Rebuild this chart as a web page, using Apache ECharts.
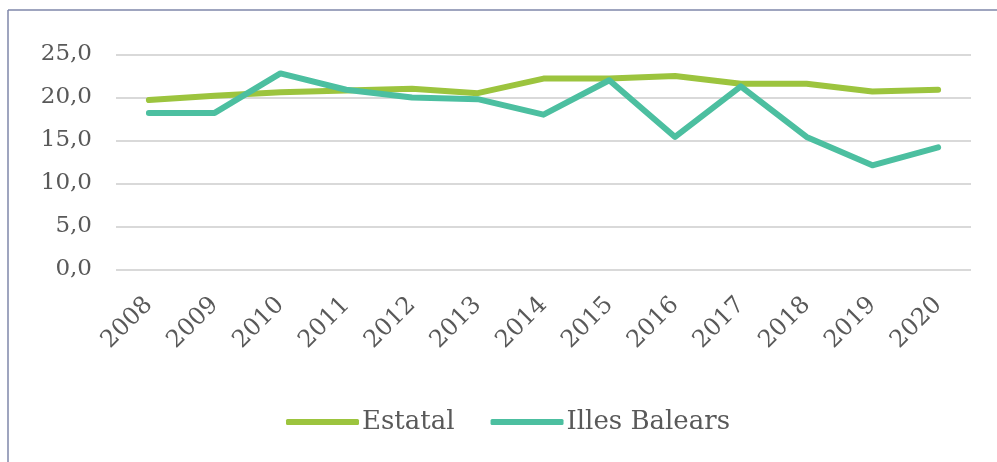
<!DOCTYPE html>
<html>
<head>
<meta charset="utf-8">
<script src="https://cdn.jsdelivr.net/npm/echarts@6/dist/echarts.min.js"></script>
<style>
html,body{margin:0;padding:0;background:#fff;}
#chart{width:997px;height:462px;}
</style>
</head>
<body>
<div id="chart"></div>
<script>
const years = ['2008','2009','2010','2011','2012','2013','2014','2015','2016','2017','2018','2019','2020'];
const estatal = [19.7, 20.2, 20.6, 20.8, 21.0, 20.5, 22.2, 22.2, 22.5, 21.6, 21.6, 20.7, 20.9];
const illesBalears = [18.2, 18.2, 22.8, 20.9, 20.0, 19.8, 18.0, 22.0, 15.4, 21.3, 15.4, 12.1, 14.2];
const seriesNames = ['Estatal', 'Illes Balears'];

const chart = echarts.init(document.getElementById('chart'), null, {renderer: 'canvas'});
const font = 'DejaVu Serif';
chart.setOption({
  animation: false,
  backgroundColor: '#fff',
  graphic: [
    {type: 'line', shape: {x1: 8, y1: 10, x2: 997, y2: 10}, style: {stroke: '#7f87aa', lineWidth: 1.5}},
    {type: 'line', shape: {x1: 8, y1: 10, x2: 8, y2: 462}, style: {stroke: '#7f87aa', lineWidth: 1.5}}
  ],
  grid: {left: 116, right: 26, top: 54.5, bottom: 192.7, containLabel: false},
  legend: {
    data: seriesNames,
    left: 281,
    top: 404,
    icon: 'roundRect',
    itemWidth: 73,
    itemHeight: 6,
    itemGap: 36,
    textStyle: {fontFamily: font, fontSize: 26, color: '#595959', padding: [0, 0, 0, -2]}
  },
  xAxis: {
    type: 'category',
    data: years,
    boundaryGap: true,
    axisLine: {show: false},
    axisTick: {show: false},
    axisLabel: {rotate: 45, margin: 32, fontFamily: font, fontSize: 24, color: '#595959', interval: 0}
  },
  yAxis: {
    type: 'value',
    min: 0,
    max: 25,
    interval: 5,
    axisLine: {show: false},
    axisTick: {show: false},
    splitLine: {lineStyle: {color: '#d9d9d9', width: 2}},
    axisLabel: {
      margin: 24,
      fontFamily: font,
      fontSize: 23,
      color: '#595959',
      formatter: v => v.toFixed(1).replace('.', ',')
    }
  },
  series: [
    {
      name: seriesNames[0],
      type: 'line',
      data: estatal,
      showSymbol: false,
      symbol: 'none',
      color: '#9cc43e',
      lineStyle: {width: 6, color: '#9cc43e', cap: 'round', join: 'round'}
    },
    {
      name: seriesNames[1],
      type: 'line',
      data: illesBalears,
      showSymbol: false,
      symbol: 'none',
      color: '#4cbfa0',
      lineStyle: {width: 6, color: '#4cbfa0', cap: 'round', join: 'round'}
    }
  ]
});
</script>
</body>
</html>
